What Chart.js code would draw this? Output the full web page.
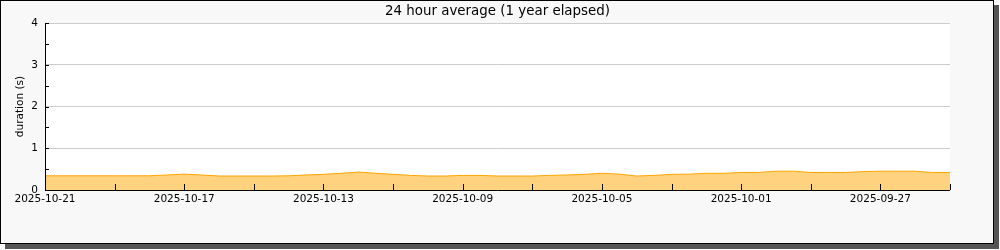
<!DOCTYPE html>
<html>
<head>
<meta charset="utf-8">
<script src="https://cdn.jsdelivr.net/npm/chart.js@4.4.1/dist/chart.umd.min.js"></script>
<style>
  html, body { margin: 0; padding: 0; background: #ffffff; }
  #wrap { width: 1000px; height: 250px; }
</style>
</head>
<body>
<div id="wrap"><canvas id="durationChart" width="1000" height="250"></canvas></div>
<script>
// start date (left edge) and days back from it
const startDate = '2025-10-21';
const daysBack = [0, 0.5, 1, 1.5, 2, 2.5, 3, 3.5, 4, 4.5, 5, 5.5, 6, 6.5, 7, 7.5, 8, 8.5, 9, 9.5,
    10, 10.5, 11, 11.5, 12, 12.5, 13, 13.5, 14, 14.5, 15, 15.5, 16, 16.5, 17, 17.5, 18, 18.5, 19, 19.5,
    20, 20.5, 21, 21.5, 22, 22.5, 23, 23.5, 24, 24.5, 25, 25.5, 26];
// 24h average duration in seconds
const durations = [0.34, 0.34, 0.34, 0.34, 0.34, 0.34, 0.34, 0.36, 0.38, 0.36,
    0.335, 0.335, 0.335, 0.335, 0.34, 0.36, 0.375, 0.40, 0.43, 0.40,
    0.375, 0.35, 0.335, 0.335, 0.35, 0.35, 0.335, 0.335, 0.335, 0.35,
    0.36, 0.375, 0.40, 0.38, 0.335, 0.35, 0.375, 0.38, 0.40, 0.40,
    0.42, 0.42, 0.45, 0.45, 0.42, 0.42, 0.42, 0.44, 0.45, 0.45,
    0.45, 0.42, 0.42];
const yTicks = [0, 1, 2, 3, 4];

function dayLabel(daysAgo) {
    const d = new Date(startDate + 'T00:00:00Z');
    d.setUTCDate(d.getUTCDate() - daysAgo);
    return d.toISOString().slice(0, 10);
}

// panel background with drop shadow, white plot area, inward ticks
const panelPlugin = {
    id: 'panel',
    beforeDraw(chart) {
        const ctx = chart.ctx;
        const a = chart.chartArea;
        ctx.save();
        ctx.fillStyle = '#ffffff';
        ctx.fillRect(0, 0, chart.width, chart.height);
        ctx.fillStyle = '#555555';
        ctx.fillRect(5, 5, 994, 244);
        ctx.fillStyle = '#f8f8f8';
        ctx.fillRect(0, 0, 994, 244);
        ctx.strokeStyle = '#000000';
        ctx.lineWidth = 1;
        ctx.strokeRect(0.5, 0.5, 993, 243);
        ctx.fillStyle = '#ffffff';
        ctx.fillRect(a.left, a.top, a.right - a.left, a.bottom - a.top);
        ctx.restore();
    },
    afterDraw(chart) {
        const ctx = chart.ctx;
        const a = chart.chartArea;
        const xs = chart.scales.x;
        const ys = chart.scales.y;
        ctx.save();
        ctx.strokeStyle = '#000000';
        ctx.lineWidth = 1;
        ctx.beginPath();
        ctx.moveTo(a.left + 0.5, a.top);
        ctx.lineTo(a.left + 0.5, a.bottom + 0.5);
        ctx.lineTo(a.right, a.bottom + 0.5);
        for (let v = 0; v <= 26; v += 2) {
            const px = Math.round(xs.getPixelForValue(v)) + 0.5;
            ctx.moveTo(px, a.bottom);
            ctx.lineTo(px, a.bottom - 6);
        }
        for (let v = 0; v <= 4; v += 0.5) {
            const py = Math.round(ys.getPixelForValue(v)) + 0.5;
            ctx.moveTo(a.left, py);
            ctx.lineTo(a.left + 4, py);
        }
        ctx.stroke();
        ctx.restore();
    }
};

const ctx = document.getElementById('durationChart').getContext('2d');
new Chart(ctx, {
    type: 'line',
    data: {
        datasets: [{
            data: daysBack.map((x, i) => ({ x: x, y: durations[i] })),
            borderColor: '#ffa500',
            backgroundColor: '#ffd27f',
            borderWidth: 1,
            fill: 'origin',
            pointRadius: 0,
            tension: 0
        }]
    },
    options: {
        responsive: false,
        animation: false,
        layout: { padding: { left: 0, right: 50, top: 0, bottom: 0 } },
        plugins: {
            legend: { display: false },
            tooltip: { enabled: false },
            title: {
                display: true,
                text: '24 hour average (1 year elapsed)',
                fullSize: false,
                color: '#000000',
                font: { family: 'DejaVu Sans', size: 13.4, weight: 'normal' },
                padding: { top: 3, bottom: 4 }
            }
        },
        scales: {
            x: {
                type: 'linear',
                min: 0,
                max: 26,
                grid: { display: false, drawTicks: false },
                border: { display: false },
                ticks: {
                    stepSize: 2,
                    autoSkip: false,
                    maxRotation: 0,
                    padding: 3,
                    color: '#000000',
                    font: { family: 'DejaVu Sans', size: 10.5 },
                    callback: v => (v % 4 === 0 && v < 26) ? dayLabel(v) : ''
                },
                afterFit: s => { s.height = 60; }
            },
            y: {
                min: 0,
                max: 4,
                afterBuildTicks: s => { s.ticks = yTicks.map(v => ({ value: v })); },
                grid: { color: '#cccccc', drawTicks: false, lineWidth: 1 },
                border: { display: false },
                ticks: {
                    padding: 7,
                    color: '#000000',
                    font: { family: 'DejaVu Sans', size: 10.5 }
                },
                title: {
                    display: true,
                    text: 'duration (s)',
                    color: '#000000',
                    font: { family: 'DejaVu Sans', size: 10.5 },
                    padding: { top: 14, bottom: 0 }
                },
                afterFit: s => { s.width = 45; }
            }
        }
    },
    plugins: [panelPlugin]
});
</script>
</body>
</html>
